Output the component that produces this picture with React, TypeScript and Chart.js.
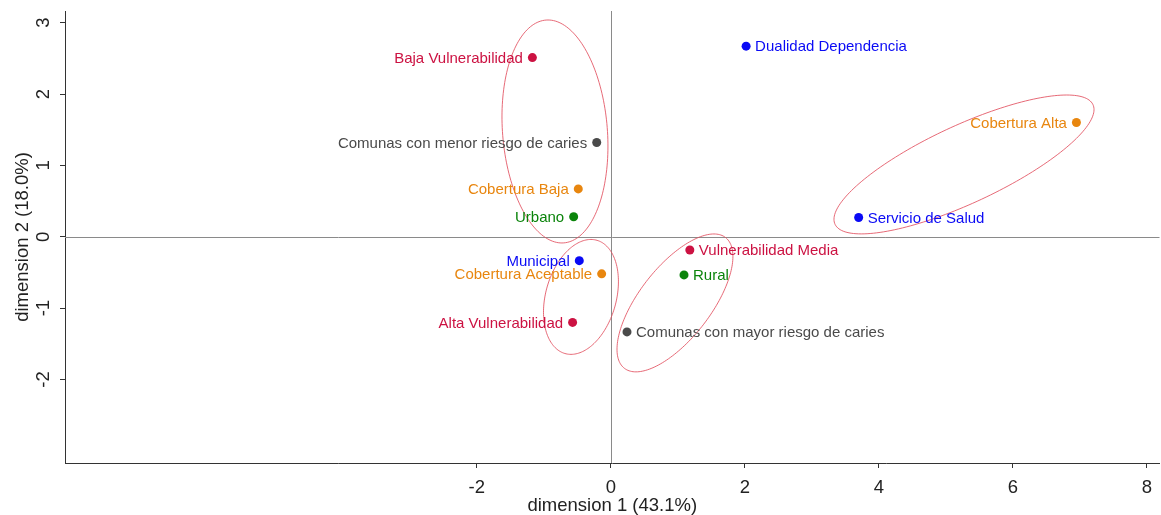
import { useEffect, useRef } from "react";
import { Chart, registerables } from "chart.js";

Chart.register(...registerables);

// ---- data ----
const vulnLabels = ["Baja Vulnerabilidad", "Vulnerabilidad Media", "Alta Vulnerabilidad"];
const vulnDim1 = [-1.17, 1.18, -0.57];
const vulnDim2 = [2.51, -0.185, -1.2];

const depLabels = ["Dualidad Dependencia", "Servicio de Salud", "Municipal"];
const depDim1 = [2.02, 3.7, -0.47];
const depDim2 = [2.67, 0.27, -0.335];

const cariesLabels = ["Comunas con menor riesgo de caries", "Comunas con mayor riesgo de caries"];
const cariesDim1 = [-0.21, 0.242];
const cariesDim2 = [1.32, -1.333];

const covLabels = ["Cobertura Alta", "Cobertura Baja", "Cobertura Aceptable"];
const covDim1 = [6.95, -0.485, -0.136];
const covDim2 = [1.6, 0.67, -0.52];

const zoneLabels = ["Urbano", "Rural"];
const zoneDim1 = [-0.554, 1.093];
const zoneDim2 = [0.28, -0.535];

// label side for each point (l = left of marker, r = right)
const vulnSide = ["l", "r", "l"];
const depSide = ["r", "r", "l"];
const cariesSide = ["l", "r"];
const covSide = ["l", "l", "l"];
const zoneSide = ["l", "r"];

// ellipses: centre and two conjugate semi-diameters, in data units
const ellipseCx = [-0.833, -0.445, 0.958, 5.272];
const ellipseCy = [1.475, -0.843, -0.927, 1.013];
const ellipseUx = [-0.104, 0.149, 0.582, 1.533];
const ellipseUy = [1.562, 0.805, 0.966, 0.973];
const ellipseVx = [0.784, 0.539, 0.64, 1.19];
const ellipseVy = [0, 0, 0, 0];

const xTickValues = [-2, 0, 2, 4, 6, 8];
const yTickValues = [-2, -1, 0, 1, 2, 3];
const xTitle = "dimension 1 (43.1%)";
const yTitle = "dimension 2 (18.0%)";

const FONT = "'Liberation Sans', Arial, Helvetica, sans-serif";

const groups = [
  { labels: vulnLabels, d1: vulnDim1, d2: vulnDim2, side: vulnSide, color: "#cc1242" },
  { labels: depLabels, d1: depDim1, d2: depDim2, side: depSide, color: "#0a0af5" },
  { labels: cariesLabels, d1: cariesDim1, d2: cariesDim2, side: cariesSide, color: "#4a4a4a" },
  { labels: covLabels, d1: covDim1, d2: covDim2, side: covSide, color: "#e8860f" },
  { labels: zoneLabels, d1: zoneDim1, d2: zoneDim2, side: zoneSide, color: "#0b840b" },
];

const decorPlugin = {
  id: "decor",
  beforeDatasetsDraw(chart: any) {
    const { ctx, chartArea, scales } = chart;
    const xs = scales.x;
    const ys = scales.y;
    ctx.save();
    // reference lines at 0
    ctx.strokeStyle = "#8a8a8a";
    ctx.lineWidth = 1;
    const x0 = Math.round(xs.getPixelForValue(0)) + 0.5;
    const y0 = Math.round(ys.getPixelForValue(0)) + 0.5;
    ctx.beginPath();
    ctx.moveTo(x0, chartArea.top);
    ctx.lineTo(x0, chartArea.bottom);
    ctx.moveTo(chartArea.left, y0);
    ctx.lineTo(chartArea.right, y0);
    ctx.stroke();
    // ellipses
    ctx.strokeStyle = "rgba(226, 80, 95, 0.85)";
    ctx.lineWidth = 1;
    for (let e = 0; e < ellipseCx.length; e++) {
      ctx.beginPath();
      const n = 180;
      for (let k = 0; k <= n; k++) {
        const t = (k / n) * Math.PI * 2;
        const vx = ellipseCx[e] + Math.cos(t) * ellipseUx[e] + Math.sin(t) * ellipseVx[e];
        const vy = ellipseCy[e] + Math.cos(t) * ellipseUy[e] + Math.sin(t) * ellipseVy[e];
        const px = xs.getPixelForValue(vx);
        const py = ys.getPixelForValue(vy);
        if (k === 0) ctx.moveTo(px, py);
        else ctx.lineTo(px, py);
      }
      ctx.closePath();
      ctx.stroke();
    }
    ctx.restore();
  },
  afterDatasetsDraw(chart: any) {
    const { ctx } = chart;
    ctx.save();
    ctx.font = `15px ${FONT}`;
    ctx.textBaseline = "middle";
    groups.forEach((g, di) => {
      const meta = chart.getDatasetMeta(di);
      meta.data.forEach((pt: any, i: number) => {
        ctx.fillStyle = g.color;
        if (g.side[i] === "l") {
          ctx.textAlign = "right";
          ctx.fillText(g.labels[i], pt.x - 9.5, pt.y + 1);
        } else {
          ctx.textAlign = "left";
          ctx.fillText(g.labels[i], pt.x + 9, pt.y + 1);
        }
      });
    });
    ctx.restore();
  },
};

export default function App() {
  const ref = useRef<HTMLCanvasElement>(null);
  useEffect(() => {
    const chart = new Chart(ref.current as HTMLCanvasElement, {
      type: "scatter",
      data: {
        datasets: groups.map((g) => ({
          label: g.labels.join(", "),
          data: g.d1.map((x, i) => ({ x, y: g.d2[i] })),
          backgroundColor: g.color,
          borderWidth: 0,
          pointRadius: 4.5,
          pointHoverRadius: 4.5,
        })),
      },
      plugins: [decorPlugin],
      options: {
        animation: false,
        responsive: true,
        maintainAspectRatio: false,
        events: [],
        layout: { padding: { top: 11, right: 0, left: 0, bottom: 0 } },
        plugins: {
          legend: { display: false },
          tooltip: { enabled: false },
        },
        scales: {
          x: {
            type: "linear",
            min: -8.146,
            max: 8.19,
            afterBuildTicks: (scale: any) => {
              scale.ticks = xTickValues.map((v) => ({ value: v }));
            },
            afterFit: (scale: any) => {
              scale.height = 52;
              scale.paddingLeft = 0;
              scale.paddingRight = 0;
            },
            ticks: {
              callback: (v: any) => String(v),
              color: "#222",
              padding: 9,
              font: { family: FONT, size: 18.5 },
              maxRotation: 0,
              minRotation: 0,
            },
            grid: {
              display: true,
              drawOnChartArea: false,
              drawTicks: true,
              tickLength: 5,
              color: "#333",
              lineWidth: 1,
            },
            border: { display: true, color: "#333", width: 1 },
            title: {
              display: true,
              text: xTitle,
              color: "#222",
              font: { family: FONT, size: 18.5 },
              padding: { top: 0, bottom: -2 },
            },
          },
          y: {
            type: "linear",
            min: -3.17,
            max: 3.163,
            afterBuildTicks: (scale: any) => {
              scale.ticks = yTickValues.map((v) => ({ value: v }));
            },
            afterFit: (scale: any) => {
              scale.width = 65;
              scale.paddingTop = 0;
              scale.paddingBottom = 0;
            },
            ticks: {
              callback: (v: any) => String(v),
              color: "#222",
              padding: 8,
              crossAlign: "center",
              minRotation: 90,
              maxRotation: 90,
              font: { family: FONT, size: 18.5 },
            },
            grid: {
              display: true,
              drawOnChartArea: false,
              drawTicks: true,
              tickLength: 5,
              color: "#333",
              lineWidth: 1,
            },
            border: { display: true, color: "#333", width: 1 },
            title: {
              display: true,
              text: yTitle,
              color: "#222",
              font: { family: FONT, size: 18.5 },
              padding: { top: 12, bottom: 0 },
            },
          },
        },
      },
    } as any);
    return () => chart.destroy();
  }, []);
  return (
    <div style={{ position: "absolute", left: 0, top: 0, width: 1161, height: 515, overflow: "hidden", background: "#fff" }}>
      <div style={{ position: "relative", width: 1164, height: 515 }}>
        <canvas ref={ref} />
      </div>
    </div>
  );
}
